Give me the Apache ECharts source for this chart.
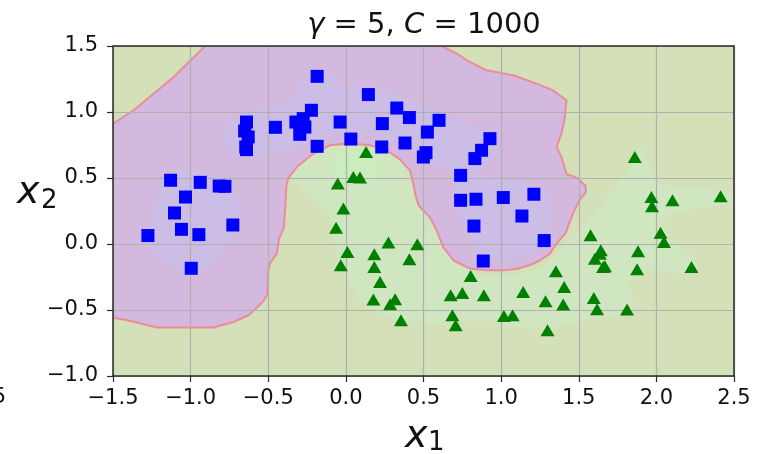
<!DOCTYPE html>
<html>
<head>
<meta charset="utf-8">
<script src="https://cdn.jsdelivr.net/npm/echarts@6/dist/echarts.min.js"></script>
<style>
  html, body { margin: 0; padding: 0; background: #ffffff; }
  #chart { width: 761px; height: 454px; }
</style>
</head>
<body>
<div id="chart"></div>
<script>
// Axis ticks and their printed labels
const xTicks = [-1.5, -1.0, -0.5, 0.0, 0.5, 1.0, 1.5, 2.0, 2.5];
const xTickLabels = ['−1.5', '−1.0', '−0.5', '0.0', '0.5', '1.0', '1.5', '2.0', '2.5'];
const yTicks = [-1.0, -0.5, 0.0, 0.5, 1.0, 1.5];
const yTickLabels = ['−1.0', '−0.5', '0.0', '0.5', '1.0', '1.5'];

// Samples of class 0 (blue squares) and class 1 (green triangles)
const class0Points = [
  [-1.129, 0.483], [-0.938, 0.467], [-0.816, 0.439], [-0.779, 0.437], [-1.033, 0.356],
  [-1.104, 0.235], [-1.059, 0.111], [-0.947, 0.071], [-1.275, 0.064], [-0.728, 0.144],
  [-0.996, -0.184],
  [-0.640, 0.924], [-0.652, 0.856], [-0.629, 0.811], [-0.645, 0.735], [-0.640, 0.715],
  [-0.454, 0.884], [-0.185, 1.270], [-0.222, 1.013], [-0.322, 0.924], [-0.275, 0.950],
  [-0.264, 0.886], [-0.297, 0.831], [-0.185, 0.740],
  [-0.037, 0.924], [0.032, 0.795], [0.145, 1.132], [0.328, 1.030], [0.409, 0.958],
  [0.235, 0.912], [0.231, 0.735], [0.381, 0.765], [0.525, 0.848], [0.600, 0.937],
  [0.516, 0.692], [0.499, 0.659],
  [0.928, 0.798], [0.874, 0.710], [0.831, 0.647], [0.739, 0.520], [0.739, 0.331],
  [0.838, 0.339], [1.014, 0.352], [1.211, 0.377], [1.134, 0.212], [0.825, 0.136],
  [1.277, 0.026], [0.885, -0.129]
];
const class1Points = [
  [0.130, 0.697], [0.048, 0.508], [0.091, 0.503], [-0.052, 0.458], [-0.016, 0.268],
  [-0.063, 0.124], [0.274, 0.011], [0.460, -0.002], [0.010, -0.061], [0.183, -0.078],
  [0.409, -0.116], [-0.033, -0.161], [0.183, -0.174], [0.220, -0.288], [0.177, -0.421],
  [0.317, -0.419], [0.285, -0.457], [0.355, -0.578], [0.675, -0.389], [0.686, -0.540],
  [0.707, -0.616], [0.804, -0.242], [0.750, -0.371], [0.889, -0.389], [1.142, -0.364],
  [1.018, -0.545], [1.074, -0.540], [1.353, -0.207], [1.406, -0.326], [1.286, -0.434],
  [1.400, -0.459], [1.299, -0.654], [1.576, 0.066], [1.636, -0.073], [1.604, -0.111],
  [1.657, -0.174], [1.597, -0.409], [1.618, -0.495], [1.861, 0.659], [1.968, 0.356],
  [1.972, 0.286], [2.104, 0.331], [2.414, 0.361], [2.027, 0.086], [2.049, 0.015],
  [1.642, -0.048], [1.668, -0.169], [1.882, -0.055], [1.876, -0.192], [2.226, -0.174],
  [1.811, -0.497]
];

// Predicted class-0 region (outline of the decision boundary)
const class0Region = [
  [-0.906, 1.500], [0.617, 1.500], [0.714, 1.442], [0.799, 1.379], [0.907, 1.316],
  [1.078, 1.278], [1.228, 1.215], [1.335, 1.164], [1.421, 1.089], [1.411, 0.962],
  [1.389, 0.836], [1.357, 0.735], [1.389, 0.659], [1.421, 0.530], [1.490, 0.500],
  [1.545, 0.440], [1.545, 0.390], [1.510, 0.340], [1.470, 0.250], [1.440, 0.160],
  [1.415, 0.080], [1.357, 0.003], [1.314, -0.073], [1.250, -0.125], [1.184, -0.161],
  [1.100, -0.190], [1.013, -0.199], [0.900, -0.199], [0.799, -0.186], [0.692, -0.123],
  [0.627, -0.023], [0.585, 0.104], [0.542, 0.200], [0.470, 0.290], [0.450, 0.360],
  [0.434, 0.458], [0.413, 0.558], [0.349, 0.640], [0.263, 0.710], [0.156, 0.748],
  [0.027, 0.761], [-0.102, 0.748], [-0.209, 0.685], [-0.316, 0.583], [-0.370, 0.500],
  [-0.383, 0.445], [-0.390, 0.280], [-0.400, 0.120], [-0.430, 0.040], [-0.445, -0.073],
  [-0.490, -0.150], [-0.499, -0.199], [-0.505, -0.380], [-0.530, -0.430], [-0.580, -0.490],
  [-0.627, -0.540], [-0.724, -0.591], [-0.853, -0.633], [-1.217, -0.633], [-1.330, -0.600],
  [-1.410, -0.578], [-1.500, -0.558], [-1.500, 0.912], [-1.367, 1.013], [-1.110, 1.265]
];

// Higher-confidence bands of the decision function
const class1Core = [
  [-0.36, 0.50], [-0.22, 0.70], [0.00, 0.78], [0.20, 0.74], [0.36, 0.62], [0.42, 0.45],
  [0.46, 0.30], [0.55, 0.15], [0.62, 0.00], [0.70, -0.15], [0.85, -0.23], [1.05, -0.24],
  [1.25, -0.19], [1.38, -0.05], [1.45, 0.04], [1.528, 0.129], [1.636, 0.280], [1.743, 0.432],
  [1.829, 0.583], [1.850, 0.710], [1.915, 0.710], [1.958, 0.583], [2.000, 0.457], [2.280, 0.420],
  [2.500, 0.400], [2.500, 0.310], [2.170, 0.255], [2.020, 0.180], [2.107, 0.028], [2.236, -0.098],
  [2.280, -0.200], [2.172, -0.224], [1.958, -0.199], [1.829, -0.275], [1.850, -0.450],
  [1.743, -0.540], [1.528, -0.578], [1.314, -0.654], [1.100, -0.629], [0.885, -0.578],
  [0.563, -0.603], [0.306, -0.578], [0.134, -0.477], [0.027, -0.330], [-0.060, -0.100],
  [-0.080, 0.104], [-0.120, 0.250], [-0.250, 0.380]
];
const class1Peak = [
  [-0.12, 0.58], [-0.06, 0.68], [0.06, 0.71], [0.20, 0.67], [0.25, 0.57], [0.18, 0.47],
  [0.05, 0.45], [-0.08, 0.49]
];
const class0CoreTop = [
  [-0.80, 0.78], [-0.74, 0.95], [-0.55, 1.02], [-0.38, 1.06], [-0.25, 1.28], [-0.12, 1.33],
  [-0.02, 1.18], [0.15, 1.22], [0.35, 1.12], [0.55, 1.03], [0.70, 0.95], [0.88, 0.86],
  [0.98, 0.80], [0.97, 0.66], [0.86, 0.56], [0.72, 0.55], [0.55, 0.62], [0.42, 0.70],
  [0.25, 0.80], [0.05, 0.84], [-0.12, 0.82], [-0.30, 0.74], [-0.48, 0.68], [-0.66, 0.64]
];
const class0CoreLeft = [
  [-1.32, 0.02], [-1.22, 0.30], [-1.18, 0.52], [-1.02, 0.56], [-0.82, 0.50], [-0.70, 0.36],
  [-0.66, 0.15], [-0.78, -0.05], [-0.92, -0.22], [-1.05, -0.24], [-1.20, -0.10]
];
const class0CoreRight = [
  [0.70, 0.58], [0.70, 0.35], [0.76, 0.12], [0.86, -0.08], [1.05, -0.12], [1.25, -0.05],
  [1.33, 0.15], [1.30, 0.40], [1.10, 0.48], [0.90, 0.52]
];

const FONT = "'DejaVu Sans', 'Noto Sans', sans-serif";
const colors = {
  background: '#d4e0b7',
  class1Core: '#d0e6c0',
  class1Peak: '#caecbe',
  class0: '#d4b9de',
  class0Core: '#ccbde6',
  boundary: 'rgba(240, 128, 148, 0.85)'
};

// Layers of the filled decision map, drawn back to front
const layers = [
  { poly: class1Core, fill: colors.class1Core, stroke: null },
  { poly: class1Peak, fill: colors.class1Peak, stroke: null },
  { poly: class0Region, fill: colors.class0, stroke: colors.boundary },
  { poly: class0CoreTop, fill: colors.class0Core, stroke: null },
  { poly: class0CoreLeft, fill: colors.class0Core, stroke: null },
  { poly: class0CoreRight, fill: colors.class0Core, stroke: null }
];

function tickLabel(ticks, labels) {
  return function (v) {
    for (let i = 0; i < ticks.length; i++) {
      if (Math.abs(ticks[i] - v) < 1e-6) return labels[i];
    }
    return '';
  };
}

const frameLine = { color: '#2a2a2a', width: 1.5 };

const chart = echarts.init(document.getElementById('chart'), null, { renderer: 'canvas' });
chart.setOption({
  animation: false,
  backgroundColor: '#ffffff',
  grid: { left: 113, right: 27, top: 46, bottom: 78, show: false },
  xAxis: [
    {
      type: 'value', min: xTicks[0], max: xTicks[xTicks.length - 1], interval: 0.5,
      position: 'bottom', z: 3,
      axisLine: { show: true, onZero: false, lineStyle: frameLine },
      axisTick: { show: true, inside: false, length: 6, lineStyle: { color: '#2a2a2a', width: 1.2 } },
      axisLabel: { margin: 12, fontSize: 21, fontFamily: FONT, color: '#111111', formatter: tickLabel(xTicks, xTickLabels) },
      splitLine: { show: true, lineStyle: { color: '#b0b0b0', width: 1.2 } }
    },
    {
      type: 'value', min: xTicks[0], max: xTicks[xTicks.length - 1], interval: 0.5,
      position: 'top', z: 3,
      axisLine: { show: true, onZero: false, lineStyle: frameLine },
      axisTick: { show: false }, axisLabel: { show: false }, splitLine: { show: false }
    }
  ],
  yAxis: [
    {
      type: 'value', min: yTicks[0], max: yTicks[yTicks.length - 1], interval: 0.5,
      position: 'left', z: 3,
      axisLine: { show: true, onZero: false, lineStyle: frameLine },
      axisTick: { show: true, inside: false, length: 6, lineStyle: { color: '#2a2a2a', width: 1.2 } },
      axisLabel: { margin: 15, fontSize: 21, fontFamily: FONT, color: '#111111', formatter: tickLabel(yTicks, yTickLabels) },
      splitLine: { show: true, lineStyle: { color: '#b0b0b0', width: 1.2 } }
    },
    {
      type: 'value', min: yTicks[0], max: yTicks[yTicks.length - 1], interval: 0.5,
      position: 'right', z: 3,
      axisLine: { show: true, onZero: false, lineStyle: frameLine },
      axisTick: { show: false }, axisLabel: { show: false }, splitLine: { show: false }
    }
  ],
  series: [
    {
      // plot-area background: predicted class 1
      type: 'custom', z: 1, silent: true, clip: true,
      data: [[0, 0]],
      renderItem: function (params, api) {
        const cs = params.coordSys;
        return { type: 'rect', shape: { x: cs.x, y: cs.y, width: cs.width, height: cs.height }, style: { fill: colors.background } };
      }
    },
    {
      // decision regions
      type: 'custom', z: 1, silent: true, clip: true,
      data: layers.map(function (_, i) { return [i, 0]; }),
      renderItem: function (params, api) {
        const layer = layers[params.dataIndex];
        const pts = layer.poly.map(function (p) { return api.coord(p); });
        return {
          type: 'polygon',
          shape: { points: pts },
          style: layer.stroke
            ? { fill: layer.fill, stroke: layer.stroke, lineWidth: 2, lineJoin: 'round' }
            : { fill: layer.fill }
        };
      }
    },
    {
      type: 'scatter', z: 5, symbol: 'rect', symbolSize: 13,
      itemStyle: { color: '#0000ff', opacity: 1 },
      data: class0Points
    },
    {
      type: 'scatter', z: 5, symbol: 'triangle', symbolSize: [14, 12],
      itemStyle: { color: '#008000', opacity: 1 },
      data: class1Points
    }
  ],
  graphic: [
    {
      type: 'text', x: 424, y: 25, silent: true,
      style: {
        text: '{i|γ} = 5, {i|C} = 1000',
        fontFamily: FONT, fontSize: 29, fill: '#111111',
        align: 'center', verticalAlign: 'middle',
        rich: { i: { fontFamily: FONT, fontSize: 29, fontStyle: 'italic', fill: '#111111' } }
      }
    },
    { type: 'text', x: 405, y: 437, silent: true,
      style: { text: 'x', fontFamily: FONT, fontSize: 38, fontStyle: 'italic', fill: '#111111', align: 'left', verticalAlign: 'middle' } },
    { type: 'text', x: 428, y: 443, silent: true,
      style: { text: '1', fontFamily: FONT, fontSize: 26, fill: '#111111', align: 'left', verticalAlign: 'middle' } },
    { type: 'text', x: 17, y: 193, silent: true,
      style: { text: 'x', fontFamily: FONT, fontSize: 38, fontStyle: 'italic', fill: '#111111', align: 'left', verticalAlign: 'middle' } },
    { type: 'text', x: 41, y: 201, silent: true,
      style: { text: '2', fontFamily: FONT, fontSize: 26, fill: '#111111', align: 'left', verticalAlign: 'middle' } },
    { type: 'text', x: 6, y: 398, silent: true,
      style: { text: '2.5', fontFamily: FONT, fontSize: 21, fill: '#111111', align: 'right', verticalAlign: 'middle' } }
  ]
});
</script>
</body>
</html>
